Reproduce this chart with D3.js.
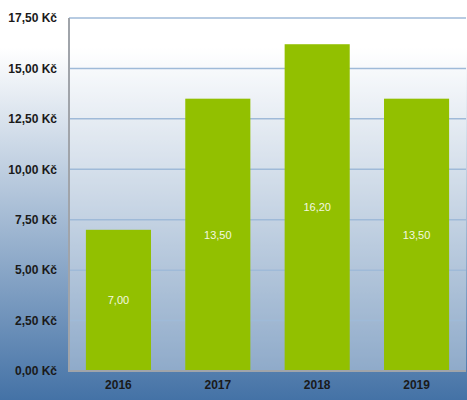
<!DOCTYPE html>
<html lang="cs">
  <head>
    <meta charset="UTF-8" />
    <title>Graf</title>
    <style>
      body { margin: 0; }
      .axis text { font-family: "Liberation Sans", Arial, sans-serif; font-size: 12px; font-weight: bold; fill: #1a1a1a; }
      .label { font-family: "Liberation Sans", Arial, sans-serif; font-size: 11px; fill: #f4f8e0; }
    </style>
  </head>
  <body>
    <div id="app"></div>
    <script src="https://cdn.jsdelivr.net/npm/d3@7/dist/d3.min.js"></script>
    <script>
      // roky a ceny
      let years = ["2016", "2017", "2018", "2019"];
      let prices = [7.0, 13.5, 16.2, 13.5];
      let ticks = [0, 2.5, 5, 7.5, 10, 12.5, 15, 17.5];

      let width = 467;
      let height = 400;
      let plotLeft = 69, plotRight = 466, plotTop = 18, plotBottom = 371;

      const fmt = d => d.toFixed(2).replace(".", ",");

      const svg = d3.select("#app").append("svg")
        .attr("width", width).attr("height", height)
        .style("display", "block");

      let grad = svg.append("defs").append("linearGradient")
        .attr("id", "bg").attr("x1", 0).attr("y1", 0).attr("x2", 0).attr("y2", 1);
      grad.append("stop").attr("offset", "0%").attr("stop-color", "#ffffff");
      grad.append("stop").attr("offset", "12%").attr("stop-color", "#ffffff");
      grad.append("stop").attr("offset", "100%").attr("stop-color", "#4472a6");

      svg.append("rect").attr("width", width).attr("height", height).attr("fill", "url(#bg)");
      svg.append("rect")
        .attr("x", plotLeft).attr("y", plotTop)
        .attr("width", plotRight - plotLeft).attr("height", plotBottom - plotTop)
        .attr("fill", "#ffffff").attr("opacity", 0.35);

      let x = d3.scaleBand().domain(years).range([plotLeft, plotRight]).paddingInner(0.345).paddingOuter(0.17);
      let y = d3.scaleLinear().domain([0, 17.5]).range([plotBottom, plotTop]);

      // mřížka
      svg.append("g").selectAll("line").data(ticks).enter().append("line")
        .attr("x1", plotLeft).attr("x2", plotRight)
        .attr("y1", d => y(d)).attr("y2", d => y(d))
        .attr("stroke", "#9fbad8").attr("stroke-width", 1.5);

      svg.selectAll(".bar").data(prices).enter().append("rect")
        .attr("class", "bar")
        .attr("x", (d, i) => x(years[i]))
        .attr("y", d => y(d))
        .attr("width", x.bandwidth())
        .attr("height", d => plotBottom - y(d))
        .attr("fill", "#92c000");

      svg.selectAll(".label").data(prices).enter().append("text")
        .attr("class", "label")
        .attr("x", (d, i) => x(years[i]) + x.bandwidth() / 2)
        .attr("y", d => (y(d) + plotBottom) / 2)
        .attr("text-anchor", "middle").attr("dy", "0.35em")
        .text(fmt);

      let yAxis = d3.axisLeft(y).tickValues(ticks).tickSize(0).tickPadding(12)
        .tickFormat(d => fmt(d) + " Kč");
      svg.append("g").attr("class", "axis")
        .attr("transform", `translate(${plotLeft},0)`)
        .call(yAxis)
        .call(g => g.select(".domain").remove());

      let xAxis = d3.axisBottom(x).tickSize(0).tickPadding(9);
      svg.append("g").attr("class", "axis")
        .attr("transform", `translate(0,${plotBottom})`)
        .call(xAxis)
        .call(g => g.select(".domain").remove());

      svg.append("line").attr("x1", plotLeft).attr("x2", plotLeft).attr("y1", plotTop).attr("y2", plotBottom + 1)
        .attr("stroke", "#a0a4aa").attr("stroke-width", 2);
      svg.append("line").attr("x1", plotLeft).attr("x2", plotRight).attr("y1", plotBottom).attr("y2", plotBottom)
        .attr("stroke", "#a0a4aa").attr("stroke-width", 2);
    </script>
  </body>
</html>
